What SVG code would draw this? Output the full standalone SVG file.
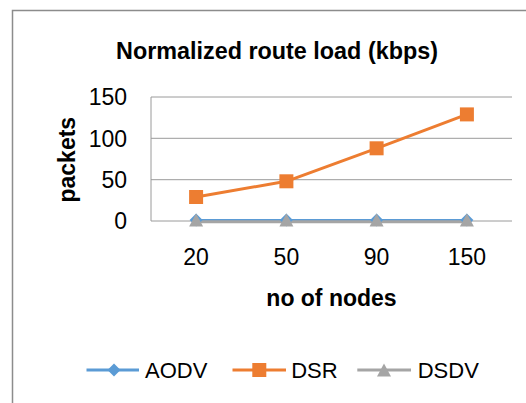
<svg xmlns="http://www.w3.org/2000/svg" width="526" height="403" viewBox="0 0 526 403">
<style>
.t{font-family:"Liberation Sans",Arial,sans-serif;fill:#000}
.b{font-weight:bold}
.grid{stroke:#9a9a9a;stroke-width:1;fill:none}
.aodv{stroke:#5B9BD5;stroke-width:3;fill:none;stroke-linejoin:round}
.dsr{stroke:#ED7D31;stroke-width:3;fill:none;stroke-linejoin:round}
.dsdv{stroke:#A5A5A5;stroke-width:3;fill:none;stroke-linejoin:round}
</style>
<defs>
<path id="dia" d="M0,-6.5 L6.5,0 L0,6.5 L-6.5,0 Z" fill="#5B9BD5"/>
<rect id="sq" x="-7" y="-7" width="14" height="14" fill="#ED7D31"/>
<path id="tri" d="M0,-6.5 L7,6.5 L-7,6.5 Z" fill="#A5A5A5"/>
</defs>
<rect width="526" height="403" fill="#fff"/>
<rect x="12.5" y="10.5" width="600" height="500" fill="none" stroke="#8c8c8c" stroke-width="1.5"/>
<text class="t b" x="277" y="58.5" font-size="23" text-anchor="middle" textLength="322" lengthAdjust="spacingAndGlyphs">Normalized route load (kbps)</text>
<g id="axes">
<path class="grid" d="M151,97H512M151,138.3H512M151,179.7H512M151,221H512M151,97V221"/>
<g class="t" font-size="23" text-anchor="end">
<text x="127" y="105.3">150</text>
<text x="127" y="146.6">100</text>
<text x="127" y="188">50</text>
<text x="127" y="229.3">0</text>
</g>
<g class="t" font-size="23" text-anchor="middle">
<text x="196.1" y="265">20</text>
<text x="286.4" y="265">50</text>
<text x="376.6" y="265">90</text>
<text x="466.9" y="265">150</text>
</g>
<text class="t b" x="331.5" y="305.5" font-size="23" text-anchor="middle">no of nodes</text>
<text class="t b" transform="translate(74.5,159.7) rotate(-90)" font-size="23" text-anchor="middle">packets</text>
</g>
<g id="connectors">
<polyline class="aodv" points="196.1,220.5 286.4,220.5 376.6,220.5 466.9,220.5"/>
<polyline class="dsdv" points="196.1,221.8 286.4,221.8 376.6,221.8 466.9,221.8" stroke-width="3.5"/>
<polyline class="dsr" points="196.1,197 286.4,181.3 376.6,148.3 466.9,114.4"/>
</g>
<g id="aodv-markers">
<use href="#dia" x="196.1" y="220"/><use href="#dia" x="286.4" y="220"/><use href="#dia" x="376.6" y="220"/><use href="#dia" x="466.9" y="220"/>
</g>
<g id="dsdv-markers">
<use href="#tri" x="196.1" y="220"/><use href="#tri" x="286.4" y="220"/><use href="#tri" x="376.6" y="220"/><use href="#tri" x="466.9" y="220"/>
</g>
<g id="dsr-markers">
<use href="#sq" x="196.1" y="197"/><use href="#sq" x="286.4" y="181.3"/><use href="#sq" x="376.6" y="148.3"/><use href="#sq" x="466.9" y="114.4"/>
</g>
<g id="legend">
<g id="leg-aodv"><path class="aodv" d="M86.5,370H139"/><use href="#dia" x="114" y="370"/><text class="t" x="145" y="377.8" font-size="22">AODV</text></g>
<g id="leg-dsr"><path class="dsr" d="M232.5,370H286"/><use href="#sq" x="259.3" y="370"/><text class="t" x="291.2" y="377.8" font-size="22">DSR</text></g>
<g id="leg-dsdv"><path class="dsdv" d="M357.3,370H411"/><use href="#tri" x="384" y="370"/><text class="t" x="417.7" y="377.8" font-size="22">DSDV</text></g>
</g>
</svg>
